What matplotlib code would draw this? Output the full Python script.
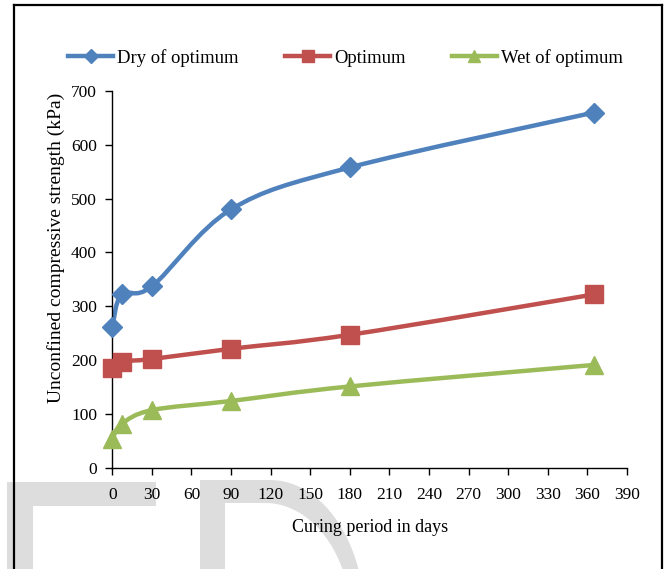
import numpy as np
import matplotlib
matplotlib.use('Agg')
import matplotlib.pyplot as plt
from matplotlib.lines import Line2D
from matplotlib.path import Path
from matplotlib.patches import PathPatch, Polygon, Rectangle

# ---------------- data ----------------
days = [0, 7, 30, 90, 180, 365]
dry = [261, 322, 337, 480, 558, 660]
optimum = [185, 197, 202, 221, 247, 322]
wet = [53, 81, 107, 124, 151, 191]
series_names = ["Dry of optimum", "Optimum", "Wet of optimum"]
x_ticks = list(range(0, 391, 30))
y_ticks = list(range(0, 701, 100))
x_label = "Curing period in days"
y_label = "Unconfined compressive strength (kPa)"

colors = ["#4F81BD", "#C0504D", "#9BBB59"]
markers = ["D", "s", "^"]
msizes = [10, 13, 13]

plt.rcParams['font.family'] = ['Liberation Serif', 'DejaVu Serif']

W, H = 666, 569
fig = plt.figure(figsize=(W / 100, H / 100), dpi=100)

# watermark letters (decorative background)
wm = "#dddddd"
def px(x, y):
    return (x / W, 1 - y / H)

fig.patches.append(Rectangle(px(7, 506), 149 / W, 24.3 / H, transform=fig.transFigure,
                             facecolor=wm, edgecolor='none', zorder=-5))
fig.patches.append(Rectangle(px(7, 575), 26 / W, (575 - 481.7) / H, transform=fig.transFigure,
                             facecolor=wm, edgecolor='none', zorder=-5))
t = np.linspace(-np.pi / 2, -0.3, 60)
outer = [(200, 575), (200, 480)] + [(270 + 95 * np.cos(a), 620 + 140 * np.sin(a)) for a in t] + [(365, 575)]
fig.patches.append(Polygon([px(*p) for p in outer], closed=True, transform=fig.transFigure,
                           facecolor=wm, edgecolor='none', zorder=-5))
inner = [(225, 575), (225, 503)] + [(265 + 86 * np.cos(a), 620 + 117 * np.sin(a)) for a in t] + [(352, 575)]
fig.patches.append(Polygon([px(*p) for p in inner], closed=True, transform=fig.transFigure,
                           facecolor='white', edgecolor='none', zorder=-4))

# outer frame
for (x0, y0, x1, y1) in [(13.5, 5, 13.5, 575), (13.5, 5, 662, 5), (662, 5, 662, 575)]:
    fig.lines.append(Line2D([x0 / W, x1 / W], [1 - y0 / H, 1 - y1 / H], transform=fig.transFigure,
                            color='black', lw=1.6))

ax = fig.add_axes([112.3 / W, 1 - 467.7 / H, (627 - 112.3) / W, (467.7 - 91) / H])
ax.patch.set_alpha(0)
ax.set_xlim(0, 390)
ax.set_ylim(0, 700)

# pixel scale for Excel-like smoothing
sx = (627 - 112.3) / 390.0
sy = (467.7 - 91) / 700.0

def smooth_path(xs, ys):
    P = np.column_stack([np.array(xs) * sx, np.array(ys) * sy])
    n = len(P)
    verts = [P[0]]
    codes = [Path.MOVETO]
    for i in range(n - 1):
        pm = P[max(i - 1, 0)]
        p0 = P[i]
        p1 = P[i + 1]
        p2 = P[min(i + 2, n - 1)]
        c1 = p0 + (p1 - pm) / 6.0
        c2 = p1 - (p2 - p0) / 6.0
        verts += [c1, c2, p1]
        codes += [Path.CURVE4] * 3
    V = np.array(verts)
    V[:, 0] /= sx
    V[:, 1] /= sy
    return Path(V, codes)

handles = []
for vals, name, c, m, ms in zip([dry, optimum, wet], series_names, colors, markers, msizes):
    ax.add_patch(PathPatch(smooth_path(days, vals), facecolor='none', edgecolor=c,
                           lw=3.2, capstyle='round', joinstyle='round', clip_on=False, zorder=2))
    ax.plot(days, vals, linestyle='none', marker=m, ms=ms, color=c, mec=c, clip_on=False, zorder=3)
    handles.append(Line2D([], [], color=c, lw=3.2, marker=m, ms=ms * 0.7, mec=c))

ax.set_xticks(x_ticks)
ax.set_yticks(y_ticks)
ax.spines['top'].set_visible(False)
ax.spines['right'].set_visible(False)
for s in ['left', 'bottom']:
    ax.spines[s].set_linewidth(1.0)
    ax.spines[s].set_color('black')
ax.tick_params(axis='x', direction='out', length=5, width=1, labelsize=12.5, pad=9)
ax.tick_params(axis='y', direction='out', length=5, width=1, labelsize=12.5, pad=6)

ax.set_xlabel(x_label, fontsize=13)
ax.xaxis.set_label_coords(0.5, -(528 - 467.7) / (467.7 - 91), transform=ax.transAxes)
ax.xaxis.label.set_va('center')
ax.text((56 - 112.3) / (627 - 112.3), (467.7 - 247.5) / (467.7 - 91), y_label,
        rotation=90, ha='center', va='center', fontsize=14, transform=ax.transAxes)

fig.legend(handles, series_names, loc='center', bbox_to_anchor=(345.5 / W, 1 - 58 / H),
           ncol=3, frameon=False, handlelength=2.42, handletextpad=0.2, columnspacing=2.5,
           fontsize=13.4)

fig.savefig("out.png", dpi=100)
